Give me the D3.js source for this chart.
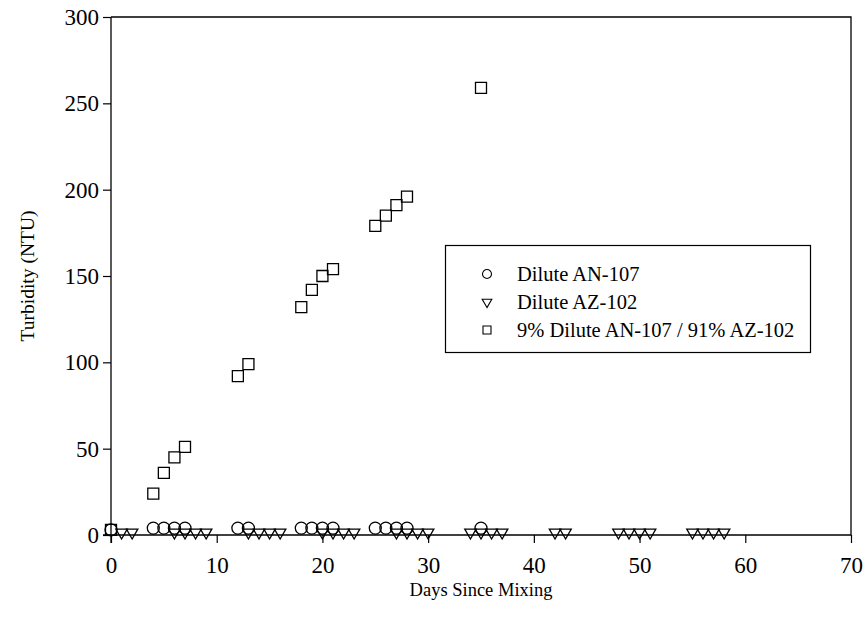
<!DOCTYPE html>
<html>
<head>
<meta charset="utf-8">
<script src="https://cdn.jsdelivr.net/npm/d3@7"></script>
<style>
  body { margin: 0; background: #fff; }
  svg { display: block; }
  text { font-family: "Liberation Serif", "Times New Roman", serif; fill: #000; }
</style>
</head>
<body>
<svg id="chart" width="868" height="633"></svg>
<script>
// Turbidity measurements (NTU) by days since mixing
const anDays  = [0, 4, 5, 6, 7, 12, 13, 18, 19, 20, 21, 25, 26, 27, 28, 35];
const anNTU   = [3, 4, 4, 4, 4, 4, 4, 4, 4, 4, 4, 4, 4, 4, 4, 4];

const azDays  = [1, 2, 6, 7, 8, 9, 13, 14, 15, 16, 20, 21, 22, 23, 27, 28, 29, 30, 34, 35, 36, 37, 42, 43, 48, 49, 50, 51, 55, 56, 57, 58];
const azNTU   = [1.5, 1.5, 1.5, 1.5, 1.5, 1.5, 1.5, 1.5, 1.5, 1.5, 1.5, 1.5, 1.5, 1.5, 1.5, 1.5, 1.5, 1.5, 1.5, 1.5, 1.5, 1.5, 1.5, 1.5, 1.5, 1.5, 1.5, 1.5, 1.5, 1.5, 1.5, 1.5];

const mixDays = [0, 4, 5, 6, 7, 12, 13, 18, 19, 20, 21, 25, 26, 27, 28, 35];
const mixNTU  = [3, 24, 36, 45, 51, 92, 99, 132, 142, 150, 154, 179, 185, 191, 196, 259];

const xTicks = [0, 10, 20, 30, 40, 50, 60, 70];
const yTicks = [0, 50, 100, 150, 200, 250, 300];

const seriesNames = ["Dilute AN-107", "Dilute AZ-102", "9% Dilute AN-107 / 91% AZ-102"];

const svg = d3.select("#chart");
const plotL = 111, plotR = 851, plotT = 17, plotB = 535;

const x = d3.scaleLinear().domain([0, 70]).range([plotL, plotR]);
const y = d3.scaleLinear().domain([0, 300]).range([plotB, plotT]);

// frame: top and right edges
svg.append("path")
  .attr("d", `M${plotL},${plotT}H${plotR}V${plotB}`)
  .attr("fill", "none").attr("stroke", "#000").attr("stroke-width", 1.3);

const xAxis = svg.append("g")
  .attr("transform", `translate(0,${plotB})`)
  .call(d3.axisBottom(x).tickValues(xTicks).tickSize(8).tickPadding(14).tickFormat(d3.format("d")));
const yAxis = svg.append("g")
  .attr("transform", `translate(${plotL},0)`)
  .call(d3.axisLeft(y).tickValues(yTicks).tickSize(8).tickPadding(4).tickFormat(d3.format("d")));

[xAxis, yAxis].forEach(g => {
  g.select(".domain").attr("stroke", "#000").attr("stroke-width", 1.3);
  g.selectAll(".tick line").attr("stroke", "#000").attr("stroke-width", 1.2);
  g.selectAll(".tick text")
    .style("font-family", '"Liberation Serif", "Times New Roman", serif')
    .style("font-size", "23px").attr("fill", "#000");
});
yAxis.select(".domain").attr("d", `M0,${plotT}V${plotB + 8}`);
xAxis.select(".domain").attr("d", `M${plotL - 8},0H${plotR}`);

// axis titles
svg.append("text")
  .attr("x", x(35)).attr("y", 596)
  .attr("text-anchor", "middle").style("font-size", "18.5px")
  .text("Days Since Mixing");
svg.append("text")
  .attr("transform", `translate(34,${y(150)}) rotate(-90)`)
  .attr("text-anchor", "middle").style("font-size", "19.5px")
  .text("Turbidity (NTU)");

// markers
const circle = d3.symbol().type(d3.symbolCircle).size(Math.PI * 6 * 6);
const tri = d3.symbol().type(d3.symbolTriangle).size(56);
const sq = d3.symbol().type(d3.symbolSquare).size(121);

const marks = svg.append("g").attr("fill", "none").attr("stroke", "#000").attr("stroke-width", 1.3);

marks.selectAll(".az").data(azDays).join("path")
  .attr("class", "az")
  .attr("d", tri)
  .attr("transform", (d, i) => `translate(${x(d)},${y(azNTU[i])}) rotate(180)`);

marks.selectAll(".an").data(anDays).join("path")
  .attr("class", "an")
  .attr("d", circle)
  .attr("transform", (d, i) => `translate(${x(d)},${y(anNTU[i])})`);

marks.selectAll(".mix").data(mixDays).join("path")
  .attr("class", "mix")
  .attr("d", sq)
  .attr("transform", (d, i) => `translate(${x(d)},${y(mixNTU[i])})`);

// legend
const lg = svg.append("g");
lg.append("rect")
  .attr("x", 445.5).attr("y", 245.5).attr("width", 365).attr("height", 107)
  .attr("fill", "#fff").attr("stroke", "#000").attr("stroke-width", 1.2);

const legSyms = [
  d3.symbol().type(d3.symbolCircle).size(Math.PI * 4.5 * 4.5),
  d3.symbol().type(d3.symbolTriangle).size(40),
  d3.symbol().type(d3.symbolSquare).size(64)
];
const legY = [274, 302, 330];
seriesNames.forEach((name, i) => {
  lg.append("path")
    .attr("d", legSyms[i])
    .attr("transform", `translate(487,${legY[i]})${i === 1 ? " rotate(180)" : ""}`)
    .attr("fill", "none").attr("stroke", "#000").attr("stroke-width", 1.1);
  lg.append("text")
    .attr("x", 517).attr("y", legY[i]).attr("dy", "0.35em")
    .style("font-size", "20.5px")
    .text(name);
});
</script>
</body>
</html>
